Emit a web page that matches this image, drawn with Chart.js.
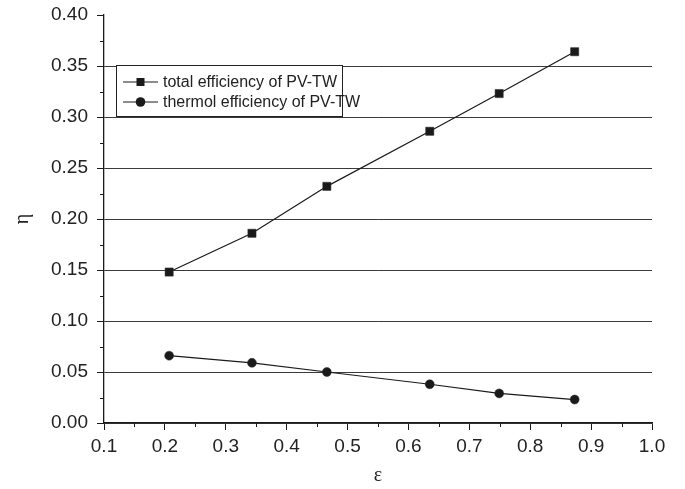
<!DOCTYPE html>
<html><head><meta charset="utf-8">
<script src="https://cdn.jsdelivr.net/npm/chart.js@4"></script>
<style>html,body{margin:0;padding:0;background:#fff}</style>
</head><body>
<canvas id="c" width="685" height="489" style="width:685px;height:489px;display:block"></canvas>
<script>
// ---- data ----
const epsilon    = [0.207, 0.343, 0.466, 0.635, 0.749, 0.873];
const totalEff   = [0.148, 0.186, 0.232, 0.286, 0.323, 0.364];
const thermalEff = [0.066, 0.059, 0.050, 0.038, 0.029, 0.023];
const seriesNames = ['total efficiency of PV-TW', 'thermol efficiency of PV-TW'];
const xTickVals = [0.1,0.2,0.3,0.4,0.5,0.6,0.7,0.8,0.9,1.0];
const yTickVals = [0,0.05,0.10,0.15,0.20,0.25,0.30,0.35,0.40];
const xMinorVals = [0.15,0.25,0.35,0.45,0.55,0.65,0.75,0.85,0.95];
const yMinorVals = [0.025,0.075,0.125,0.175,0.225,0.275,0.325,0.375];
const xTitle = 'ε';
const yTitle = 'η';

const INK = '#1a1a1a';

const minorTicks = {
  id: 'minorTicks',
  afterDraw(chart) {
    const ctx = chart.ctx, xs = chart.scales.x, ys = chart.scales.y;
    ctx.save();
    ctx.strokeStyle = INK; ctx.lineWidth = 1;
    for (const v of xMinorVals) {
      const px = Math.round(xs.getPixelForValue(v)) + 0.5;
      ctx.beginPath(); ctx.moveTo(px, ys.bottom); ctx.lineTo(px, ys.bottom + 4); ctx.stroke();
    }
    for (const v of yMinorVals) {
      const py = Math.round(ys.getPixelForValue(v)) + 0.5;
      ctx.beginPath(); ctx.moveTo(xs.left, py); ctx.lineTo(xs.left - 4, py); ctx.stroke();
    }
    ctx.restore();
  }
};

const boxLegend = {
  id: 'boxLegend',
  afterDatasetsDraw(chart) {
    const ctx = chart.ctx, a = chart.chartArea;
    const bx = a.left + 12, by = a.top + 50, bw = 226, bh = 51;
    ctx.save();
    ctx.fillStyle = '#fff';
    ctx.fillRect(bx, by, bw, bh);
    ctx.strokeStyle = '#222'; ctx.lineWidth = 1;
    ctx.strokeRect(bx + 0.5, by + 0.5, bw, bh);
    ctx.font = '16px "Liberation Sans", Arial, sans-serif';
    ctx.textBaseline = 'middle';
    chart.data.datasets.forEach((ds, i) => {
      const y = by + 17 + i * 20;
      const x0 = bx + 7, x1 = bx + 42, xm = (x0 + x1) / 2;
      ctx.strokeStyle = INK; ctx.lineWidth = 1.2;
      ctx.beginPath(); ctx.moveTo(x0, y); ctx.lineTo(x1, y); ctx.stroke();
      ctx.fillStyle = INK;
      if (ds.pointStyle === 'rect') {
        ctx.fillRect(xm - 4, y - 4, 8, 8);
      } else {
        ctx.beginPath(); ctx.arc(xm, y, 4.8, 0, Math.PI * 2); ctx.fill();
      }
      ctx.fillStyle = '#222';
      ctx.fillText(ds.label, bx + 47, y + 1);
    });
    ctx.restore();
  }
};

new Chart(document.getElementById('c'), {
  type: 'line',
  data: {
    datasets: [
      { label: seriesNames[0], data: epsilon.map((x, i) => ({x, y: totalEff[i]})),
        borderColor: INK, backgroundColor: INK, borderWidth: 1.2,
        pointStyle: 'rect', pointRadius: 5.8, pointBorderWidth: 0.5, pointBorderColor: '#333' },
      { label: seriesNames[1], data: epsilon.map((x, i) => ({x, y: thermalEff[i]})),
        borderColor: INK, backgroundColor: INK, borderWidth: 1.2,
        pointStyle: 'circle', pointRadius: 4.5, pointBorderWidth: 0.5, pointBorderColor: '#333' }
    ]
  },
  options: {
    responsive: false,
    animation: false,
    devicePixelRatio: 1,
    layout: { padding: { top: 15, right: 33, left: 0, bottom: 0 } },
    plugins: { legend: { display: false }, tooltip: { enabled: false } },
    elements: { line: { tension: 0 } },
    scales: {
      x: {
        type: 'linear', min: 0.1, max: 1.0,
        afterBuildTicks: s => { s.ticks = xTickVals.map(v => ({value: v})); },
        afterFit: s => { s.height = 66; s.paddingLeft = 0; s.paddingRight = 0; },
        border: { display: true, color: INK, width: 1.3 },
        grid: { drawOnChartArea: false, drawTicks: true, tickLength: 7, tickColor: INK, tickWidth: 1 },
        ticks: { color: '#222', padding: 5, maxRotation: 0,
          font: { family: '"Liberation Sans", Arial, sans-serif', size: 19 },
          callback: v => Number(v).toFixed(1) },
        title: { display: true, text: xTitle, color: '#222',
          font: { family: '"Liberation Serif", "Times New Roman", serif', size: 20 },
          padding: { top: 0, bottom: 1 } }
      },
      y: {
        type: 'linear', min: 0, max: 0.4,
        afterBuildTicks: s => { s.ticks = yTickVals.map(v => ({value: v})); },
        afterFit: s => { s.width = 104; s.paddingTop = 0; s.paddingBottom = 0; },
        border: { display: true, color: INK, width: 1.3 },
        grid: {
          drawOnChartArea: true, drawTicks: true, tickLength: 7, tickWidth: 1, tickColor: INK,
          lineWidth: 1,
          color: c => (c.tick && Math.abs(c.tick.value - 0.4) < 1e-9) ? 'rgba(0,0,0,0)' : '#3a3a3a'
        },
        ticks: { color: '#222', padding: 9,
          font: { family: '"Liberation Sans", Arial, sans-serif', size: 19 },
          callback: v => Number(v).toFixed(2) },
        title: { display: true, text: yTitle, color: '#222',
          font: { family: '"Liberation Serif", "Times New Roman", serif', size: 20 },
          padding: { top: 11, bottom: 0 } }
      }
    }
  },
  plugins: [minorTicks, boxLegend]
});
</script>
</body></html>
